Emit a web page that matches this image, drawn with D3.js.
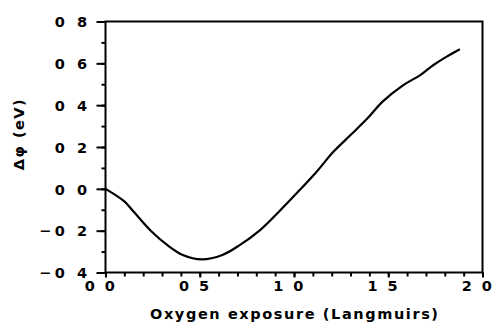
<!DOCTYPE html>
<html><head><meta charset="utf-8">
<script src="https://cdn.jsdelivr.net/npm/d3@7"></script>
<style>
html,body{margin:0;padding:0;background:#fff;}
svg text{font-family:"DejaVu Sans",sans-serif;font-weight:bold;fill:#000;}
</style></head>
<body>
<svg id="c" width="494" height="323"></svg>
<script>
// Data
const exposure = [0.0, 0.10, 0.15, 0.24, 0.33, 0.41, 0.51, 0.62, 0.71, 0.82, 0.93, 1.03, 1.12, 1.21, 1.30, 1.39, 1.47, 1.58, 1.67, 1.74, 1.81, 1.88];
const deltaPhi = [0.0, -0.06, -0.11, -0.20, -0.27, -0.316, -0.337, -0.316, -0.27, -0.197, -0.10, -0.006, 0.082, 0.178, 0.257, 0.337, 0.417, 0.496, 0.544, 0.592, 0.632, 0.667];
const xTickValues = [0.0, 0.5, 1.0, 1.5, 2.0];
const xTickLabels = ["0 0", "0 5", "1 0", "1 5", "2 0"];
const yTickValues = [0.8, 0.6, 0.4, 0.2, 0.0, -0.2, -0.4];
const yTickLabels = ["0 8", "0 6", "0 4", "0 2", "0 0", "\u22120 2", "\u22120 4"];
const xTitle = "Oxygen exposure (Langmuirs)";
const yTitle = "\u0394\u03C6 (eV)";

const svg = d3.select("#c");
const L = 105.5, R = 482.5, T = 21.5, B = 272.5;
const x = d3.scaleLinear().domain([0, 2]).range([L, R]);
const y = d3.scaleLinear().domain([-0.4, 0.8]).range([B, T]);

// minor ticks
const xMinor = d3.range(0, 2.0001, 0.1);
const yMinor = d3.range(-0.4, 0.8001, 0.1);

const xAxis = d3.axisBottom(x).tickValues(xMinor).tickSize(4).tickFormat("");
const gx = svg.append("g").attr("transform", `translate(0,${B})`).call(xAxis);
gx.select(".domain").remove();
gx.selectAll("line").attr("stroke", "#000").attr("stroke-width", 2);

const yAxis = d3.axisLeft(y).tickValues(yMinor).tickSize(4).tickFormat("");
const gy = svg.append("g").attr("transform", `translate(${L},0)`).call(yAxis);
gy.select(".domain").remove();
gy.selectAll("line").attr("stroke", "#000").attr("stroke-width", 2);

const yMajor = d3.axisLeft(y).tickValues(yTickValues).tickSize(9).tickFormat((d, i) => yTickLabels[i]);
const gy2 = svg.append("g").attr("transform", `translate(${L},0)`).call(yMajor);
gy2.select(".domain").remove();
gy2.selectAll("line").attr("stroke", "#000").attr("stroke-width", 2);
gy2.selectAll("text").attr("font-size", 14.5).attr("font-family", "DejaVu Sans").attr("font-weight", "bold")
  .attr("letter-spacing", 3.5).attr("x", -15).attr("dy", "0.36em");

const xMajor = d3.axisBottom(x).tickValues(xTickValues).tickSize(5).tickFormat((d, i) => xTickLabels[i]);
const gx2 = svg.append("g").attr("transform", `translate(0,${B})`).call(xMajor);
gx2.select(".domain").remove();
gx2.selectAll("line").attr("stroke", "#000").attr("stroke-width", 2);
gx2.selectAll("text").attr("font-size", 14.5).attr("font-family", "DejaVu Sans").attr("font-weight", "bold")
  .attr("letter-spacing", 2.5).attr("dx", -5).attr("y", 8);

// frame
svg.append("rect").attr("x", L).attr("y", T).attr("width", R - L).attr("height", B - T)
  .attr("fill", "none").attr("stroke", "#000").attr("stroke-width", 2);

// curve
const line = d3.line().x((d, i) => x(exposure[i])).y((d, i) => y(deltaPhi[i])).curve(d3.curveCatmullRom);
svg.append("path").datum(deltaPhi).attr("d", line).attr("fill", "none").attr("stroke", "#000").attr("stroke-width", 2.2);

// titles
svg.append("text").attr("x", 294).attr("y", 319).attr("text-anchor", "middle")
  .attr("font-size", 14.5).attr("textLength", 288).attr("lengthAdjust", "spacing").text(xTitle);
svg.append("text").attr("transform", `translate(24,${134}) rotate(-90)`).attr("text-anchor", "middle")
  .attr("font-size", 14.5).attr("letter-spacing", 1.5).text(yTitle);
</script>
</body></html>
